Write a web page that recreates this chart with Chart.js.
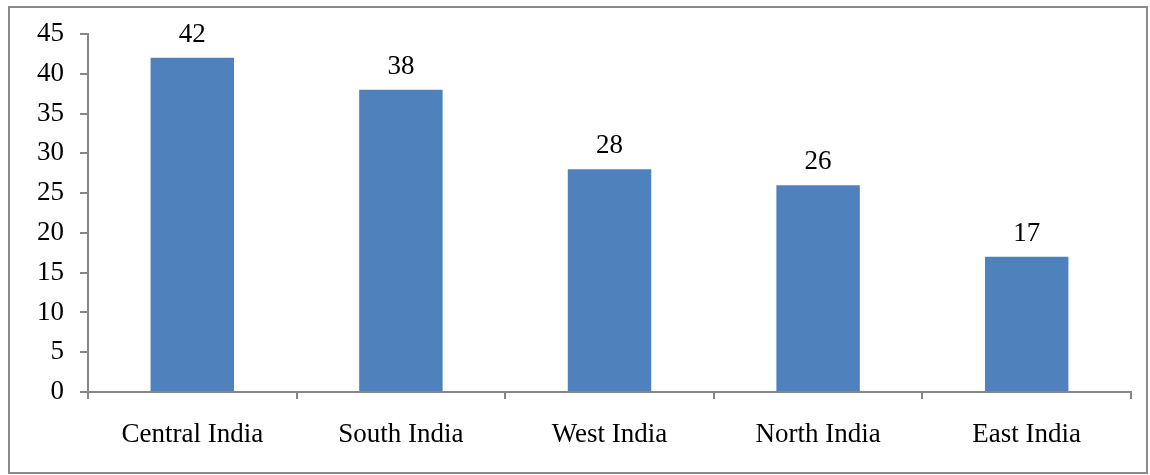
<!DOCTYPE html>
<html>
<head>
<meta charset="utf-8">
<script src="https://cdn.jsdelivr.net/npm/chart.js@4"></script>
<style>
html,body{margin:0;padding:0;background:#fff;}
#wrap{position:relative;width:1150px;height:475px;}
#frame{position:absolute;left:8px;top:6px;width:1136px;height:464px;border:2px solid #8a8a8a;}
#grafico{position:absolute;left:0;top:0;}
</style>
</head>
<body>
<div id="wrap">
<div id="frame"></div>
<canvas id="grafico" width="1150" height="475"></canvas>
</div>
<script>

let regioes = ["Central India","South India","West India","North India","East India"]
let valores = [42,38,28,26,17]
let yMax = 45
let yPasso = 5

// rotulos em cima das barras
let rotulos = {
id:"rotulos",
afterDatasetsDraw(chart){
let c = chart.ctx
let meta = chart.getDatasetMeta(0)
c.save()
c.font = "27px 'Liberation Serif', 'Times New Roman', serif"
c.fillStyle = "#000"
c.textAlign = "center"
c.textBaseline = "alphabetic"
meta.data.forEach((bar,i)=>{
c.fillText(String(valores[i]), bar.x, bar.y - 16)
})
c.restore()
}
}

let fonte = {family:"'Liberation Serif', 'Times New Roman', serif", size:27}

let ctx = document.getElementById("grafico").getContext("2d")

let grafico = new Chart(ctx, {
type:"bar",
data:{
labels:regioes,
datasets:[{
data:valores,
backgroundColor:"#4f81bd",
barPercentage:0.4,
categoryPercentage:1
}]
},
options:{
responsive:false,
animation:false,
layout:{padding:{left:0,top:34,right:19,bottom:0}},
plugins:{legend:{display:false},tooltip:{enabled:false}},
scales:{
x:{
grid:{drawOnChartArea:false,color:"#868686",lineWidth:2,tickLength:7,offset:true},
border:{color:"#868686",width:2},
ticks:{color:"#000",font:fonte,padding:20,maxRotation:0},
afterFit(s){ s.height = 83 }
},
y:{
min:0,
max:yMax,
grid:{drawOnChartArea:false,color:"#868686",lineWidth:2,tickLength:8},
border:{color:"#868686",width:2},
ticks:{stepSize:yPasso,color:"#000",font:fonte,padding:16},
afterFit(s){ s.width = 88 }
}
}
},
plugins:[rotulos]
})

</script>
</body>
</html>
